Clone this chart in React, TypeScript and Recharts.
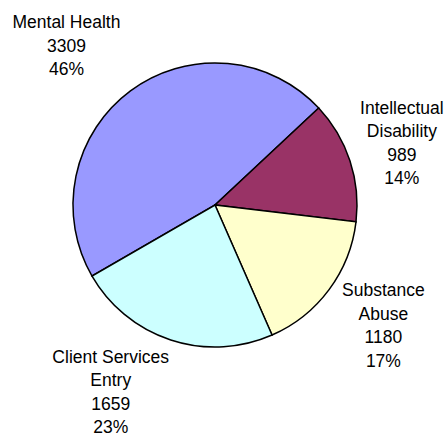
import React from 'react';
import { PieChart, Pie, Cell } from 'recharts';

const categories = ['Mental Health', 'Intellectual Disability', 'Substance Abuse', 'Client Services Entry'];
const counts = [3309, 989, 1180, 1659];
const percentLabels = ['46%', '14%', '17%', '23%'];
const nameLines = [['Mental Health'], ['Intellectual', 'Disability'], ['Substance', 'Abuse'], ['Client Services', 'Entry']];
const colors = ['#9999FF', '#993366', '#FFFFCC', '#CCFFFF'];

const data = categories.map((name, i) => ({ name, value: counts[i] }));

// label layout: distance beyond the outer radius and angular shift from the slice mid-angle
const labelLayout = [
  { extra: 76, shift: 6.4 },
  { extra: 55, shift: 0.3 },
  { extra: 65, shift: 1 },
  { extra: 72, shift: -11 },
];

const LINE = 23.5;
const CAP = 12.7;
const RAD = Math.PI / 180;

const renderLabel = (props: any) => {
  const { cx, cy, midAngle, outerRadius, index } = props;
  const lay = labelLayout[index];
  const ang = (midAngle + lay.shift) * RAD;
  const r = outerRadius + lay.extra;
  const lx = cx + r * Math.cos(ang);
  const ly = cy - r * Math.sin(ang);
  const lines = [...nameLines[index], String(counts[index]), percentLabels[index]];
  const n = lines.length;
  const b0 = ly - (LINE * (n - 1) - CAP) / 2;
  return (
    <text
      x={lx}
      y={b0}
      textAnchor="middle"
      fill="#000"
      style={{ fontFamily: '"Liberation Sans", Arial, sans-serif', fontSize: 17.5 }}
    >
      {lines.map((t, i) => (
        <tspan key={i} x={lx} y={b0 + i * LINE}>
          {t}
        </tspan>
      ))}
    </text>
  );
};

export default function App() {
  return (
    <div style={{ position: 'fixed', left: 0, top: 0, width: 448, height: 437, background: '#fff' }}>
      <PieChart width={448} height={437} margin={{ top: 0, right: 0, bottom: 0, left: 0 }}>
        <Pie
          data={data}
          dataKey="value"
          nameKey="name"
          cx={215}
          cy={205}
          outerRadius={142}
          startAngle={210}
          endAngle={-150}
          stroke="#000"
          strokeWidth={1.5}
          label={renderLabel}
          labelLine={false}
          isAnimationActive={false}
        >
          {data.map((d, i) => (
            <Cell key={d.name} fill={colors[i]} stroke="#000" strokeWidth={1.5} />
          ))}
        </Pie>
      </PieChart>
    </div>
  );
}
